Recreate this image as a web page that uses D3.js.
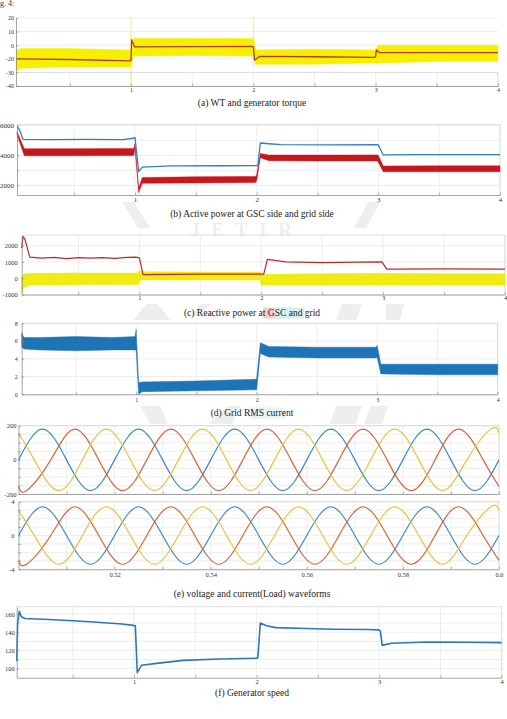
<!DOCTYPE html>
<html>
<head>
<meta charset="utf-8">
<script src="https://d3js.org/d3.v7.min.js"></script>
<style>
  body { margin: 0; background: #fff; }
</style>
</head>
<body>
<div id="chart"></div>
<script>
// ---- data ----

// shared time axis (s) for the long runs
const timeTicks = [0.5, 1, 1.5, 2, 2.5, 3, 3.5, 4];
const timeTickText = ['', '1', '', '2', '', '3', '', '4'];

// (a) torque: labels are spaced evenly on the original axis
const torqueTicks = [-40, -30, -20, 0, 10, 20];
const torqueRedT = [0.06, 0.5, 0.99, 1.0, 1.005, 1.03, 1.5, 1.99, 2.0, 2.01, 2.05, 2.5, 2.99, 3.0, 3.005, 3.03, 3.5, 4.0];
const torqueRedV = [-20, -20.5, -21.5, -21, 4, -2.5, -2.2, -1.6, -2, -21, -16.5, -17, -17.8, -17, -7, -10.8, -10.8, -10.8];
const torqueBandT = [0.06, 0.1, 0.5, 0.99, 1.0, 1.02, 1.5, 1.99, 2.0, 2.02, 2.5, 2.99, 3.0, 3.02, 3.5, 4.0];
const torqueBandHi = [-8, -5, -5, -7, -7, 5, 5, 5, 5, -7, -6, -7, -7, 0, 0, 0];
const torqueBandLo = [-29, -27, -26, -26, -26, -16, -15, -16, -16, -24, -24, -23, -23, -23, -22, -22];
const torqueSpikeT = [1.0, 2.0];
const torqueSpikeHi = [20, 20];
const torqueSpikeLo = [-40, -26];

// (b) active power
const powerTicks = [2000, 3000, 4000, 5000, 6000];
const powerTickText = ['2000', '', '4000', '', '6000'];
const pBlueT = [0.03, 0.045, 0.08, 0.3, 0.6, 0.9, 0.99, 1.0, 1.03, 1.06, 1.3, 1.7, 2.0, 2.01, 2.03, 2.1, 2.2, 2.6, 2.99, 3.0, 3.04, 3.3, 4.0];
const pBlueV = [5900, 5800, 5080, 5060, 5070, 5060, 5150, 5200, 2920, 3220, 3300, 3310, 3320, 3350, 4830, 4780, 4720, 4700, 4720, 4700, 4030, 4050, 4050];
const pRedT = [0.03, 0.09, 0.5, 0.99, 1.0, 1.03, 1.06, 1.5, 1.99, 2.0, 2.03, 2.1, 2.5, 2.99, 3.0, 3.04, 3.5, 4.0];
const pRedHi = [5600, 4450, 4450, 4470, 4800, 1800, 2520, 2570, 2590, 2700, 4130, 4020, 4020, 4030, 4000, 3290, 3300, 3300];
const pRedLo = [5400, 3980, 3980, 3990, 4500, 1500, 2130, 2160, 2180, 2300, 3850, 3650, 3630, 3630, 3550, 2910, 2910, 2910];

// (c) reactive power
const reactTicks = [-1000, 0, 1000, 2000];
const reactTickText = ['-1000', '0', '1000', '2000'];
const qRedT = [0.034, 0.045, 0.06, 0.1, 0.2, 0.3, 0.4, 0.5, 0.6, 0.7, 0.8, 0.9, 0.97, 1.0, 1.03, 1.5, 2.0, 2.02, 2.05, 2.2, 2.5, 2.8, 2.99, 3.03, 3.5, 4.0];
const qRedV = [1850, 2560, 2400, 1300, 1230, 1280, 1200, 1260, 1230, 1270, 1220, 1280, 1300, 1250, 220, 260, 250, 250, 1160, 1000, 960, 990, 1000, 560, 580, 560];
const qYelT = [0.034, 0.05, 0.1, 0.5, 0.99, 1.0, 1.02, 1.5, 1.99, 2.0, 2.02, 2.5, 3.0, 3.5, 4.0];
const qYelHi = [100, 250, 300, 320, 320, 500, 400, 380, 380, 300, 250, 280, 300, 280, 280];
const qYelLo = [-900, -600, -420, -400, -380, -200, -100, -110, -110, -450, -420, -420, -420, -420, -420];

// (d) grid RMS current
const rmsTicks = [0, 2, 4, 6, 8];
const rmsT = [0.05, 0.07, 0.2, 0.5, 0.8, 0.99, 1.0, 1.02, 1.05, 1.5, 1.99, 2.0, 2.03, 2.1, 2.5, 2.99, 3.0, 3.03, 3.5, 4.0];
const rmsHi = [6.9, 6.4, 6.4, 6.5, 6.4, 6.5, 7.3, 1.3, 1.4, 1.5, 1.7, 1.8, 5.8, 5.4, 5.3, 5.3, 5.5, 3.4, 3.4, 3.4];
const rmsLo = [5.3, 5.1, 5.0, 4.9, 5.0, 5.0, 5.0, 0.0, 0.3, 0.4, 0.5, 0.5, 4.6, 4.2, 4.1, 4.1, 4.2, 2.3, 2.2, 2.2];

// (e) three phase waveforms: zero crossings and peaks of each phase
const waveTicks = [0.51, 0.52, 0.53, 0.54, 0.55, 0.56, 0.57, 0.58, 0.59, 0.6];
const waveTickText = ['', '0.52', '', '0.54', '', '0.56', '', '0.58', '', '0.6'];
const phaseAT = [0.5, 0.505, 0.51, 0.515, 0.52, 0.525, 0.53, 0.535, 0.54, 0.545, 0.55, 0.555, 0.56, 0.565, 0.57, 0.575, 0.58, 0.585, 0.59, 0.595, 0.6];
const phaseBT = [0.5, 0.5017, 0.5067, 0.5117, 0.5167, 0.5217, 0.5267, 0.5317, 0.5367, 0.5417, 0.5467, 0.5517, 0.5567, 0.5617, 0.5667, 0.5717, 0.5767, 0.5817, 0.5867, 0.5917, 0.5967, 0.6];
const phaseCT = [0.5, 0.5033, 0.5083, 0.5133, 0.5183, 0.5233, 0.5283, 0.5333, 0.5383, 0.5433, 0.5483, 0.5533, 0.5583, 0.5633, 0.5683, 0.5733, 0.5783, 0.5833, 0.5883, 0.5933, 0.5983, 0.6];
const voltA = [0, 180, 0, -180, 0, 180, 0, -180, 0, 180, 0, -180, 0, 180, 0, -180, 0, 180, 0, -180, 0];
const voltB = [-156, -180, 0, 180, 0, -180, 0, 180, 0, -180, 0, 180, 0, -180, 0, 180, 0, -180, 0, 180, 0, -156];
const voltC = [156, 0, -180, 0, 180, 0, -180, 0, 180, 0, -180, 0, 180, 0, -180, 0, 180, 0, -180, 0, 180, 156];
const currA = [0, 3.4, 0, -3.4, 0, 3.4, 0, -3.4, 0, 3.4, 0, -3.4, 0, 3.4, 0, -3.4, 0, 3.4, 0, -3.4, 0];
const currB = [-2.95, -3.4, 0, 3.4, 0, -3.4, 0, 3.4, 0, -3.4, 0, 3.4, 0, -3.4, 0, 3.4, 0, -3.4, 0, 3.4, 0, -2.95];
const currC = [2.95, 0, -3.4, 0, 3.4, 0, -3.4, 0, 3.4, 0, -3.4, 0, 3.4, 0, -3.4, 0, 3.4, 0, -3.4, 0, 3.4, 2.95];
const voltTicks = [-200, -150, -100, -50, 0, 50, 100, 150, 200];
const voltTickText = ['-200', '', '', '', '0', '', '', '', '200'];
const currTicks = [-4, -3, -2, -1, 0, 1, 2, 3, 4];
const currTickText = ['-4', '', '', '', '0', '', '', '', '4'];

// (f) generator speed
const speedTicks = [100, 110, 120, 130, 140, 150, 160];
const speedTickText = ['100', '', '120', '', '140', '', '160'];
const speedT = [0.042, 0.05, 0.063, 0.08, 0.11, 0.3, 0.5, 0.7, 0.9, 0.99, 1.01, 1.026, 1.06, 1.2, 1.4, 1.7, 2.0, 2.01, 2.03, 2.08, 2.16, 2.4, 2.63, 2.9, 3.0, 3.01, 3.025, 3.1, 3.4, 3.7, 4.0];
const speedV = [108, 150, 163, 157, 155, 154, 152.5, 151, 149, 147.5, 147, 95.5, 103.6, 106, 109, 110.5, 111.3, 112, 150, 147, 145, 144, 143.3, 143, 142.5, 141, 125.5, 127.9, 129.3, 129, 128.5];

const captions = [
	'(a) WT and generator torque',
	'(b) Active power at GSC side and grid side',
	'(c) Reactive power at GSC and grid',
	'(d) Grid RMS current',
	'(e) voltage and current(Load) waveforms',
	'(f) Generator speed'
];

// ---- drawing ----
const serif = '"Liberation Serif", "DejaVu Serif", serif';
const W = 507, H = 719;

const svg = d3.select('#chart').append('svg').attr('width', W).attr('height', H);

// faint journal watermark behind the figure
const wm = svg.append('g').attr('fill', '#eeeeee');
wm.append('text')
	.attr('x', 247).attr('y', 236)
	.attr('text-anchor', 'middle')
	.attr('font-family', serif).attr('font-weight', 'bold')
	.attr('font-size', 18).attr('letter-spacing', 12)
	.text('JETIR');
[
	'M122,202 L134,202 L150,228 L138,228 Z',
	'M368,202 L380,202 L366,228 L354,228 Z',
	'M134,320 L146,304 L158,304 L170,320 Z',
	'M190,320 L200,304 L212,304 Z',
	'M342,304 L362,304 L356,320 L336,320 Z',
	'M386,304 L404,304 L400,320 L386,320 Z',
	'M140,406 L160,406 L168,424 L150,424 Z',
	'M208,424 L228,406 L240,406 L232,424 Z',
	'M336,406 L362,406 L356,424 L330,424 Z',
	'M370,406 L388,406 L382,424 L364,424 Z'
].forEach((d) => wm.append('path').attr('d', d));

// cropped figure label at the very top
svg.append('text').attr('x', 0).attr('y', 5.5)
	.attr('font-family', serif).attr('font-size', 8).attr('fill', '#333')
	.text('g. 4:');

// axes box with MATLAB style grid; returns a layer for the series
const makePanel = (o) => {
	const g = svg.append('g');
	const [x0, x1] = o.x.range();
	const [yb, yt] = o.y.range();

	const grid = g.append('g').attr('stroke', '#e2e2e2').attr('stroke-width', 0.6);
	grid.selectAll('.gx').data(o.xTicks).join('line').attr('class', 'gx')
		.attr('x1', (d) => o.x(d)).attr('x2', (d) => o.x(d))
		.attr('y1', yb).attr('y2', yt);
	grid.selectAll('.gy').data(o.yTicks).join('line').attr('class', 'gy')
		.attr('x1', x0).attr('x2', x1)
		.attr('y1', (d) => o.y(d)).attr('y2', (d) => o.y(d));

	g.append('path')
		.attr('d', 'M' + x0 + ',' + yt + 'H' + x1 + 'V' + yb)
		.attr('fill', 'none').attr('stroke', '#cdcdcd').attr('stroke-width', 0.6);

	const layer = g.append('g');

	const xAxis = d3.axisBottom(o.x)
		.tickValues(o.xTicks).tickFormat((d, i) => o.xText[i])
		.tickSizeInner(-2.5).tickSizeOuter(0).tickPadding(o.xPad);
	const yAxis = d3.axisLeft(o.y)
		.tickValues(o.yTicks).tickFormat((d, i) => o.yText[i])
		.tickSizeInner(-2.5).tickSizeOuter(0).tickPadding(o.yPad);

	const xa = g.append('g').attr('transform', 'translate(0,' + yb + ')').call(xAxis);
	const ya = g.append('g').attr('transform', 'translate(' + x0 + ',0)').call(yAxis);
	[ xa, ya ].forEach((a) => {
		a.attr('font-family', serif).attr('font-size', o.fs || 6);
		a.select('.domain').attr('stroke', '#808080').attr('stroke-width', 0.7);
		a.selectAll('.tick line').attr('stroke', '#808080').attr('stroke-width', 0.6);
		a.selectAll('.tick text').attr('fill', '#333');
	});
	return layer;
};

const drawBand = (layer, x, y, t, lo, hi, color) => {
	const rows = t.map((d, i) => ({ t: d, lo: lo[i], hi: hi[i] }));
	layer.append('path')
		.datum(rows)
		.attr('d', d3.area().x((d) => x(d.t)).y0((d) => y(d.lo)).y1((d) => y(d.hi)))
		.attr('fill', color)
		.attr('stroke', color).attr('stroke-width', 0.8).attr('stroke-opacity', 0.6);
};

const drawLine = (layer, x, y, t, v, color, w, curve) => {
	const rows = t.map((d, i) => ({ t: d, v: v[i] }));
	layer.append('path')
		.datum(rows)
		.attr('d', d3.line().x((d) => x(d.t)).y((d) => y(d.v)).curve(curve || d3.curveLinear))
		.attr('fill', 'none')
		.attr('stroke', color).attr('stroke-width', w)
		.attr('stroke-linejoin', 'round');
};

const drawCaption = (text, y, marks) => {
	const t = svg.append('text')
		.attr('x', 252).attr('y', y)
		.attr('text-anchor', 'middle')
		.attr('font-family', serif).attr('font-size', 9.5).attr('fill', '#222');
	const parts = marks ? marks : [ [ text, null ] ];
	parts.forEach((p) => {
		const span = t.append('tspan').text(p[0]);
		if (p[1]) {
			const b = span.node().getBBox();
			svg.insert('rect', () => t.node())
				.attr('x', b.x - 1).attr('y', b.y - 0.5)
				.attr('width', b.width + 2).attr('height', b.height + 1)
				.attr('fill', p[1]);
		}
	});
};

// (a) WT and generator torque
const xA = d3.scaleLinear().domain([ 0.06, 4 ]).range([ 16, 498 ]);
const yA = d3.scaleLinear().domain(torqueTicks).range(torqueTicks.map((d, i) => 86 - i * 68 / 5));
const la = makePanel({ x: xA, y: yA, xTicks: timeTicks, xText: timeTickText, yTicks: torqueTicks,
	yText: torqueTicks.map(String), xPad: 1.5, yPad: 2 });
drawBand(la, xA, yA, torqueBandT, torqueBandLo, torqueBandHi, '#f6f000');
torqueSpikeT.forEach((t, i) => {
	la.append('line')
		.attr('x1', xA(t)).attr('x2', xA(t))
		.attr('y1', yA(torqueSpikeLo[i])).attr('y2', yA(torqueSpikeHi[i]))
		.attr('stroke', '#f3ec3a').attr('stroke-width', 0.8);
});
drawLine(la, xA, yA, torqueRedT, torqueRedV, '#b83a2c', 1.3);
drawCaption(captions[0], 106);

// (b) Active power
const xB = d3.scaleLinear().domain([ 0.03, 4 ]).range([ 17, 500 ]);
const yB = d3.scaleLinear().domain([ 1350, 6070 ]).range([ 195, 124.5 ]);
const lb = makePanel({ x: xB, y: yB, xTicks: timeTicks, xText: timeTickText, yTicks: powerTicks,
	yText: powerTickText, xPad: 2, yPad: 3, fs: 7 });
drawBand(lb, xB, yB, pRedT, pRedLo, pRedHi, '#c8161d');
drawLine(lb, xB, yB, pBlueT, pBlueV, '#2f80c0', 1.3);
drawCaption(captions[1], 217);

// (c) Reactive power
const xC = d3.scaleLinear().domain([ 0.034, 4 ]).range([ 21.7, 505 ]);
const yC = d3.scaleLinear().domain([ -1000, 2650 ]).range([ 294.6, 235 ]);
const lc = makePanel({ x: xC, y: yC, xTicks: timeTicks, xText: timeTickText, yTicks: reactTicks,
	yText: reactTickText, xPad: 1, yPad: 4, fs: 6.5 });
drawBand(lc, xC, yC, qYelT, qYelLo, qYelHi, '#eeec12');
drawLine(lc, xC, yC, qRedT, qRedV, '#c0282a', 1.2);
drawCaption(captions[2], 316, [
	[ '(c) Reactive ', null ],
	[ 'power', '#f6c9cc' ],
	[ ' ', null ],
	[ 'at GSC', '#d4f1f2' ],
	[ ' and grid', null ]
]);

// (d) Grid RMS current
const xD = d3.scaleLinear().domain([ 0.05, 4 ]).range([ 21.7, 497.7 ]);
const yD = d3.scaleLinear().domain([ 0, 8 ]).range([ 394.3, 323.3 ]);
const ld = makePanel({ x: xD, y: yD, xTicks: timeTicks, xText: timeTickText, yTicks: rmsTicks,
	yText: rmsTicks.map(String), xPad: 3, yPad: 4 });
drawBand(ld, xD, yD, rmsT, rmsLo, rmsHi, '#1f74b6');
drawCaption(captions[3], 416, [
	[ '(d) ', null ],
	[ 'Grid', '#f3f5d6' ],
	[ ' ', null ],
	[ 'RMS cu', '#e6f4f4' ],
	[ 'rrent', null ]
]);

// (e) voltage and current waveforms
const waveColors = [ '#3a8ac3', '#d6643a', '#e6c23e' ];
const xE = d3.scaleLinear().domain([ 0.5, 0.6 ]).range([ 18.5, 499 ]);
const yE1 = d3.scaleLinear().domain([ -200, 200 ]).range([ 494, 425.7 ]);
const le1 = makePanel({ x: xE, y: yE1, xTicks: waveTicks, xText: waveTicks.map(() => ''), yTicks: voltTicks,
	yText: voltTickText, xPad: 2, yPad: 2, fs: 6.5 });
drawLine(le1, xE, yE1, phaseAT, voltA, waveColors[0], 1.2, d3.curveNatural);
drawLine(le1, xE, yE1, phaseBT, voltB, waveColors[1], 1.2, d3.curveNatural);
drawLine(le1, xE, yE1, phaseCT, voltC, waveColors[2], 1.2, d3.curveNatural);

const yE2 = d3.scaleLinear().domain([ -4, 4 ]).range([ 569.3, 501.7 ]);
const le2 = makePanel({ x: xE, y: yE2, xTicks: waveTicks, xText: waveTickText, yTicks: currTicks,
	yText: currTickText, xPad: 3, yPad: 4, fs: 6.5 });
drawLine(le2, xE, yE2, phaseAT, currA, waveColors[0], 1.2, d3.curveNatural);
drawLine(le2, xE, yE2, phaseBT, currB, waveColors[1], 1.2, d3.curveNatural);
drawLine(le2, xE, yE2, phaseCT, currC, waveColors[2], 1.2, d3.curveNatural);
drawCaption(captions[4], 597);

// (f) Generator speed
const xF = d3.scaleLinear().domain([ 0.042, 4 ]).range([ 16.7, 501.7 ]);
const yF = d3.scaleLinear().domain([ 90, 168 ]).range([ 677.7, 606.7 ]);
const lf = makePanel({ x: xF, y: yF, xTicks: timeTicks, xText: timeTickText, yTicks: speedTicks,
	yText: speedTickText, xPad: 2, yPad: 2, fs: 6.5 });
drawLine(lf, xF, yF, speedT, speedV, '#2a79b6', 1.6);
drawCaption(captions[5], 696);
</script>
</body>
</html>
